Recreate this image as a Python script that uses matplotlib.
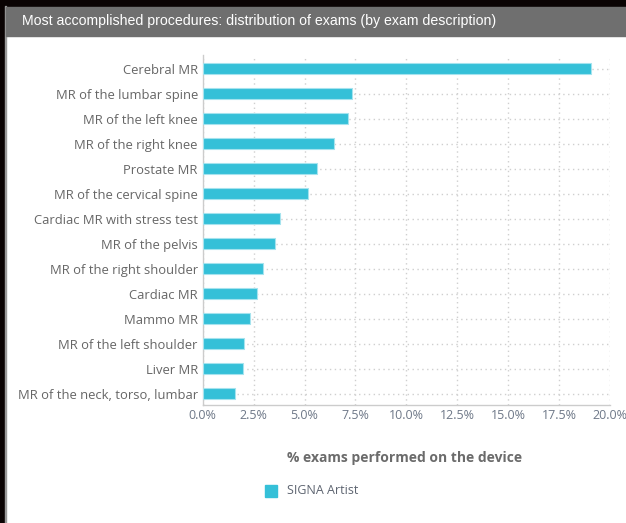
import matplotlib
matplotlib.use("Agg")
import matplotlib.pyplot as plt
from matplotlib.patches import Rectangle
from matplotlib.ticker import FuncFormatter

procedures = [
    "Cerebral MR",
    "MR of the lumbar spine",
    "MR of the left knee",
    "MR of the right knee",
    "Prostate MR",
    "MR of the cervical spine",
    "Cardiac MR with stress test",
    "MR of the pelvis",
    "MR of the right shoulder",
    "Cardiac MR",
    "Mammo MR",
    "MR of the left shoulder",
    "Liver MR",
    "MR of the neck, torso, lumbar",
]
share_pct = [19.07, 7.32, 7.12, 6.47, 5.63, 5.19, 3.80, 3.57, 2.98, 2.68, 2.32, 2.05, 1.98, 1.59]
x_ticks = [0, 2.5, 5, 7.5, 10, 12.5, 15, 17.5, 20]
series_name = "SIGNA Artist"
title = "Most accomplished procedures: distribution of exams (by exam description)"
x_label = "% exams performed on the device"

W, H = 626, 523
DPI = 100
BAR = "#35c0d8"

fig = plt.figure(figsize=(W / DPI, H / DPI), dpi=DPI)
fig.patch.set_facecolor("white")

def px(x0, y0, w, h, **kw):
    fig.patches.append(Rectangle((x0 / W, 1 - (y0 + h) / H), w / W, h / H,
                                 transform=fig.transFigure, **kw))

# dark frame and header band
px(0, 0, W, 6, color="#0a0303", zorder=0)
px(0, 0, 4.5, H, color="#0a0303", zorder=0)
px(4.5, 6, 1, H, color="#9a9a9a", zorder=0)
px(6, 7, W - 6, 28.5, color="#6f6f6f", zorder=0)
fig.text(22 / W, 1 - 21.5 / H, title, color="white", fontsize=10.2,
         family="Liberation Sans", va="center", ha="left")

left, right, top, bottom = 202.7, 610, 55, 405
ax = fig.add_axes([left / W, 1 - bottom / H, (right - left) / W, (bottom - top) / H])

y = list(range(len(procedures)))
ax.barh(y, share_pct, height=0.44, color=BAR, edgecolor="#a5e3ee",
        linewidth=0.8, zorder=3)

ax.set_xlim(0, 20)
ax.set_ylim(13.45, -0.56)
ax.set_yticks(y)
ax.set_yticklabels(procedures, fontsize=9.4, color="#666666", family="Open Sans")
ax.set_xticks(x_ticks)
ax.xaxis.set_major_formatter(FuncFormatter(lambda v, _: f"{v:.1f}%"))
for lbl in ax.get_xticklabels():
    lbl.set_fontsize(9.0)
    lbl.set_color("#6e7888")
    lbl.set_family("Open Sans")
ax.tick_params(axis="y", length=0, pad=3.5)
ax.tick_params(axis="x", length=0, pad=3)

ax.grid(True, axis="both", linestyle=(0, (1, 2.5)), color="#cfcfcf", linewidth=1, zorder=1)
ax.set_axisbelow(True)
for s in ("top", "right"):
    ax.spines[s].set_visible(False)
for s in ("left", "bottom"):
    ax.spines[s].set_color("#cccccc")
    ax.spines[s].set_linewidth(1)

fig.text(405 / W, 1 - 458 / H, x_label, ha="center", va="center", fontsize=10.0,
         fontweight="bold", color="#6b6b6b", family="Open Sans")

px(265, 484.5, 12, 12, color=BAR)
fig.text(287 / W, 1 - 491 / H, series_name, ha="left", va="center", fontsize=9,
         color="#5d6470", family="Open Sans")

fig.savefig("out.png", dpi=DPI)
